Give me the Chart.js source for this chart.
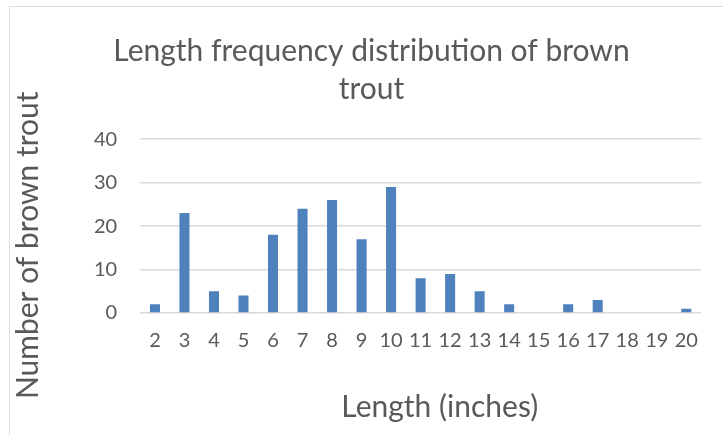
<!DOCTYPE html>
<html>
<head>
<meta charset="utf-8">
<script src="https://cdn.jsdelivr.net/npm/chart.js@4"></script>
<style>
  body { margin: 0; background: #fff; }
  .frame {
    position: absolute; left: 9px; top: 6px;
    width: 730px; height: 440px;
    border: 1px solid #d9d9d9;
  }
  #myChart { position: absolute; left: 0; top: 0; }
</style>
</head>
<body>
<div class="frame"><canvas id="myChart" width="714" height="429"></canvas></div>
<script>
// lengths in inches
const lengths = ["2", "3", "4", "5", "6", "7", "8", "9", "10", "11", "12", "13", "14", "15", "16", "17", "18", "19", "20"];
// number of fish in each length class
const counts = [2, 23, 5, 4, 18, 24, 26, 17, 29, 8, 9, 5, 2, 0, 2, 3, 0, 0, 1];
const yTicks = [0, 10, 20, 30, 40];

const font = "Lato, 'Open Sans', sans-serif";
const textColor = "#595959";
const gridColor = "#d9d9d9";

// nudge the chart title a little right, like the original
const titleShift = {
  id: "titleShift",
  afterLayout(chart) {
    const tb = chart.titleBlock;
    if (tb) {
      tb.left += 16;
      tb.right += 16;
    }
  },
};

const ctx = document.getElementById("myChart").getContext("2d");
const configChart = {
  type: "bar",
  data: {
    labels: lengths,
    datasets: [
      {
        label: "Number of brown trout",
        data: counts,
        backgroundColor: "#4f81bd",
        borderWidth: 0,
        barPercentage: 0.68,
        categoryPercentage: 0.5,
      },
    ],
  },
  options: {
    responsive: false,
    animation: false,
    devicePixelRatio: 1,
    layout: { padding: { left: 0, right: 23, top: 25, bottom: 11 } },
    plugins: {
      legend: { display: false },
      tooltip: { enabled: false },
      title: {
        display: true,
        text: ["Length frequency distribution of brown", "trout"],
        color: textColor,
        font: { family: font, size: 30, weight: "normal", lineHeight: 1.27 },
        padding: { top: 0, bottom: 31 },
      },
    },
    scales: {
      x: {
        grid: { display: false, drawTicks: false },
        border: { display: false },
        ticks: { color: textColor, font: { family: font, size: 20 }, padding: 16 },
        title: {
          display: true,
          text: "     Length (inches)",
          color: textColor,
          font: { family: font, size: 30 },
          padding: { top: 20, bottom: 0 },
        },
      },
      y: {
        min: 0,
        max: 40,
        afterBuildTicks: (axis) => {
          axis.ticks = yTicks.map((v) => ({ value: v }));
        },
        grid: { color: gridColor, lineWidth: 1.5, drawTicks: false },
        border: { display: false },
        ticks: { color: textColor, font: { family: font, size: 20 }, padding: 23 },
        title: {
          display: true,
          text: "Number of brown trout     ",
          color: textColor,
          font: { family: font, size: 30 },
          padding: { top: 0, bottom: 25 },
        },
      },
    },
  },
  plugins: [titleShift],
};
let myChart = new Chart(ctx, configChart);
</script>
</body>
</html>
